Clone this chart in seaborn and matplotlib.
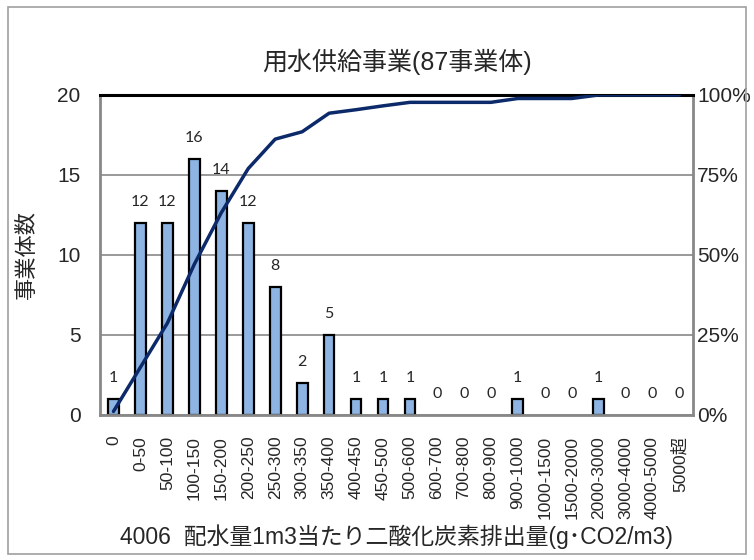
import matplotlib
matplotlib.use('Agg')
import matplotlib.pyplot as plt
import seaborn as sns
import pandas as pd
from matplotlib.patches import Rectangle

# Data
categories = ['0', '0-50', '50-100', '100-150', '150-200', '200-250', '250-300',
              '300-350', '350-400', '400-450', '450-500', '500-600', '600-700',
              '700-800', '800-900', '900-1000', '1000-1500', '1500-2000',
              '2000-3000', '3000-4000', '4000-5000', '5000超']
counts = [1, 12, 12, 16, 14, 12, 8, 2, 5, 1, 1, 1, 0, 0, 0, 1, 0, 0, 1, 0, 0, 0]
cum_pct = [1.1, 14.9, 28.7, 47.1, 63.2, 77.0, 86.2, 88.5, 94.3, 95.4, 96.6, 97.7,
           97.7, 97.7, 97.7, 98.9, 98.9, 98.9, 100, 100, 100, 100]
left_ticks = [0, 5, 10, 15, 20]
right_ticks = [0, 25, 50, 75, 100]

df = pd.DataFrame({'cat': categories, 'n': counts, 'cum': cum_pct})

sns.set_style('white')
plt.rcParams['font.family'] = ['Liberation Sans', 'Noto Sans CJK JP', 'DejaVu Sans']

fig = plt.figure(figsize=(7.54, 5.6), dpi=100)
fig.patches.append(Rectangle((0.011, 0.010), 0.978, 0.978, transform=fig.transFigure,
                             fill=False, edgecolor='#a0a0a0', linewidth=1.2))
ax = fig.add_axes([0.1326, 0.259, 0.7865, 0.5714])

sns.barplot(data=df, x='cat', y='n', color='#8db4e2', edgecolor='black',
            linewidth=1.6, width=0.4, saturation=1, ax=ax)
# hide outlines of empty bars
for p, v in zip(ax.patches, counts):
    if v == 0:
        p.set_linewidth(0)
for i, v in enumerate(counts):
    ax.text(i, v + 1.3, str(v), ha='center', va='center', fontsize=11.5,
            family=['Lato', 'DejaVu Sans'])

ax.set_xlim(-0.5, len(categories) - 0.5)
ax.set_ylim(0, 20)
ax.set_yticks(left_ticks)
ax.yaxis.grid(True, color='#888888', linewidth=1.2)
ax.set_axisbelow(True)
ax.tick_params(axis='y', length=0, labelsize=15, pad=14)
ax.tick_params(axis='x', length=0, labelsize=12.5, pad=15)
plt.setp(ax.get_xticklabels(), rotation=90)
ax.set_xlabel('4006  配水量1m3当たり二酸化炭素排出量(g･CO2/m3)', fontsize=16.5, labelpad=4)
ax.set_ylabel('事業体数', fontsize=16, labelpad=14)
ax.set_title('用水供給事業(87事業体)', fontsize=18, pad=18)

for side in ['left', 'bottom', 'right']:
    ax.spines[side].set_color('#888888')
    ax.spines[side].set_linewidth(2)
ax.spines['top'].set_color('black')
ax.spines['top'].set_linewidth(2.2)

ax2 = ax.twinx()
sns.lineplot(x=categories, y=cum_pct, sort=False, color='#0c2a6a', linewidth=2.5, ax=ax2)
ax2.set_ylim(0, 100)
ax2.set_yticks(right_ticks)
ax2.set_yticklabels([f'{t}%' for t in right_ticks])
ax2.tick_params(axis='y', length=0, labelsize=15, pad=3)
for s in ax2.spines.values():
    s.set_visible(False)

fig.savefig('out.png', dpi=100)
